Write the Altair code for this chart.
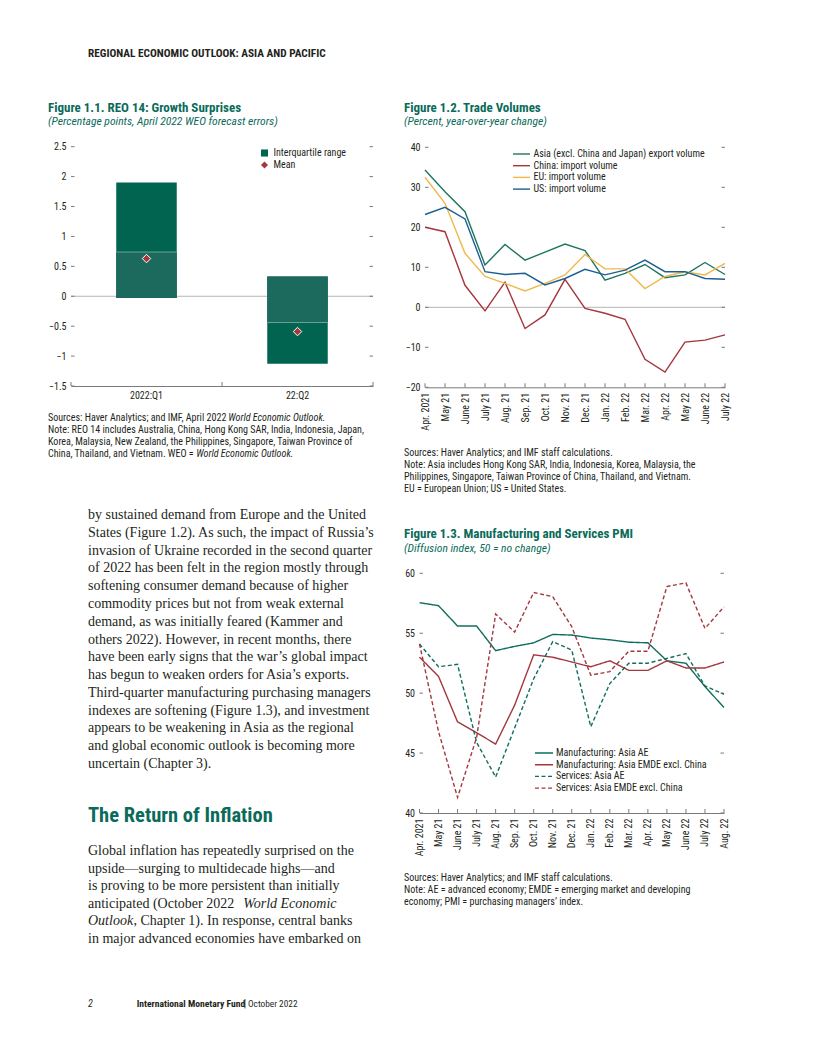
import altair as alt
import pandas as pd

W, H = 800, 1040


def X(x):
    return round(x - 8, 2)


def Y(y):
    return round(y - 8, 2)


SANS = "Roboto Condensed, Noto Sans Condensed, Liberation Sans Narrow, DejaVu Sans Condensed, sans-serif"
SERIF = "Liberation Serif, Times New Roman, DejaVu Serif, serif"
TEAL = "#0a6b5a"
INK = "#231f20"
AXC = "#7a7a7a"
ZERO = "#b5b5b5"
TICKFS = 10
NOTEFS = 10.05
LEGFS = 10
MINUS = "replace(datum.label, '-', '\u2212')"

# ---------------- Figure 1.1 data ----------------
cats11 = ["2022:Q1", "22:Q2"]
q25_11 = [-0.03, -1.13]
med_11 = [0.74, -0.44]
q75_11 = [1.90, 0.33]
mean_11 = [0.63, -0.59]
yt11 = [-1.5, -1.0, -0.5, 0.0, 0.5, 1.0, 1.5, 2.0, 2.5]
leg11 = ["Interquartile range", "Mean"]
col11 = ["#006450", "#a3383e"]
light11 = "#1c6a5d"
medline11 = "#8dbcb0"

# ---------------- Figure 1.2 data ----------------
months12 = ["Apr. 2021", "May 21", "June 21", "July 21", "Aug. 21", "Sep. 21", "Oct. 21",
            "Nov. 21", "Dec. 21", "Jan. 22", "Feb. 22", "Mar. 22", "Apr. 22", "May 22",
            "June 22", "July 22"]
names12 = ["Asia (excl. China and Japan) export volume", "China: import volume",
           "EU: import volume", "US: import volume"]
colors12 = ["#1e7660", "#a5363c", "#efb94c", "#1d5f93"]
asia12 = [34.3, 28.9, 23.9, 10.6, 15.7, 11.8, 13.8, 15.8, 14.2, 6.8, 8.5, 10.7, 7.4, 8.1, 11.2, 8.2]
china12 = [20.0, 18.9, 5.5, -0.9, 6.3, -5.3, -1.9, 7.0, -0.3, -1.5, -3.0, -13.0, -16.2, -8.7, -8.2, -6.9]
eu12 = [32.5, 26.0, 13.5, 7.7, 6.0, 4.1, 6.0, 8.1, 13.2, 9.6, 9.6, 4.7, 7.7, 8.9, 8.1, 11.0]
us12 = [23.2, 25.0, 22.1, 8.9, 8.2, 8.5, 5.6, 7.2, 9.5, 8.1, 9.3, 11.8, 8.9, 8.9, 7.2, 7.0]
yt12 = [-20, -10, 0, 10, 20, 30, 40]

# ---------------- Figure 1.3 data ----------------
months13 = months12 + ["Aug. 22"]
names13 = ["Manufacturing: Asia AE", "Manufacturing: Asia EMDE excl. China",
           "Services: Asia AE", "Services: Asia EMDE excl. China"]
colors13 = ["#0f6e5d", "#a3383e", "#0f6e5d", "#a3383e"]
dashes13 = [[1, 0], [1, 0], [4, 2.5], [4, 2.5]]
mfg_ae = [57.55, 57.3, 55.6, 55.6, 53.55, 53.9, 54.2, 54.9, 54.85, 54.6, 54.45, 54.25, 54.2, 52.7, 52.5, 50.55, 48.8]
mfg_emde = [53.0, 51.4, 47.6, 46.7, 45.75, 49.0, 53.2, 53.0, 52.6, 52.2, 52.7, 51.9, 51.9, 52.7, 52.1, 52.1, 52.6]
svc_ae = [54.1, 52.2, 52.4, 45.9, 43.0, 47.1, 51.2, 54.3, 53.6, 47.2, 50.8, 52.5, 52.5, 52.9, 53.3, 50.6, 49.9]
svc_emde = [54.1, 46.8, 41.3, 46.3, 56.6, 55.1, 58.4, 58.05, 55.55, 51.5, 51.8, 53.5, 53.5, 58.9, 59.2, 55.4, 57.2]
yt13 = [40, 45, 50, 55, 60]

# ---------------- Texts ----------------
header = "REGIONAL ECONOMIC OUTLOOK: ASIA AND PACIFIC"
t11 = "Figure 1.1. REO 14: Growth Surprises"
s11 = "(Percentage points, April 2022 WEO forecast errors)"
t12 = "Figure 1.2. Trade Volumes"
s12 = "(Percent, year-over-year change)"
t13 = "Figure 1.3. Manufacturing and Services PMI"
s13 = "(Diffusion index, 50 = no change)"
notes11 = ["Sources: Haver Analytics; and IMF, April 2022",
           "Note: REO 14 includes Australia, China, Hong Kong SAR, India, Indonesia, Japan,",
           "Korea, Malaysia, New Zealand, the Philippines, Singapore, Taiwan Province of",
           "China, Thailand, and Vietnam. WEO ="]
weo = "World Economic Outlook."
notes12 = ["Sources: Haver Analytics; and IMF staff calculations.",
           "Note: Asia includes Hong Kong SAR, India, Indonesia, Korea, Malaysia, the",
           "Philippines, Singapore, Taiwan Province of China, Thailand, and Vietnam.",
           "EU = European Union; US = United States."]
notes13 = ["Sources: Haver Analytics; and IMF staff calculations.",
           "Note: AE = advanced economy; EMDE = emerging market and developing",
           "economy; PMI = purchasing managers\u2019 index."]
body1 = ["by sustained demand from Europe and the United",
         "States (Figure 1.2). As such, the impact of Russia\u2019s",
         "invasion of Ukraine recorded in the second quarter",
         "of 2022 has been felt in the region mostly through",
         "softening consumer demand because of higher",
         "commodity prices but not from weak external",
         "demand, as was initially feared (Kammer and",
         "others 2022). However, in recent months, there",
         "have been early signs that the war\u2019s global impact",
         "has begun to weaken orders for Asia\u2019s exports.",
         "Third-quarter manufacturing purchasing managers",
         "indexes are softening (Figure 1.3), and investment",
         "appears to be weakening in Asia as the regional",
         "and global economic outlook is becoming more",
         "uncertain (Chapter 3)."]
heading = "The Return of Inflation"
body2a = ["Global inflation has repeatedly surprised on the",
          "upside\u2014surging to multidecade highs\u2014and",
          "is proving to be more persistent than initially",
          "anticipated (October 2022"]
body2_it1 = "World Economic"
body2_it2 = "Outlook"
body2_l5 = ", Chapter 1). In response, central banks"
body2_l6 = "in major advanced economies have embarked on"

ONE = pd.DataFrame({"k": [0]})


def txt(x, y, lines, size, font=SANS, weight="normal", style="normal", color=INK, lh=None):
    props = dict(text=lines, align="left", baseline="alphabetic", font=font,
                 fontSize=size, fontWeight=weight, fontStyle=style, color=color)
    if lh:
        props["lineHeight"] = lh
    return alt.Chart(ONE).mark_text(**props).encode(x=alt.value(X(x)), y=alt.value(Y(y)))


def lab_axis(**kw):
    base = dict(title=None, ticks=False, grid=False, labelFont=SANS, labelFontSize=TICKFS,
                labelColor=INK, domainColor=AXC, domainWidth=1)
    base.update(kw)
    return alt.Axis(**base)


def legend(x, y, **kw):
    base = dict(orient="none", legendX=X(x), legendY=Y(y), title=None, direction="vertical",
                labelFont=SANS, labelFontSize=LEGFS, labelColor=INK, labelLimit=400, padding=0)
    base.update(kw)
    return alt.Legend(**base)


# ================= Figure 1.1 =================
sx11 = alt.Scale(type="band", domain=cats11, range=[X(71), X(373)], paddingInner=0, paddingOuter=0)
sy11 = alt.Scale(domain=[-1.5, 2.5], range=[Y(386), Y(146.7)], nice=False, zero=False)
ax_x11 = lab_axis(orient="bottom", offset=Y(386) - H, labelPadding=4, labelAngle=0)
ax_y11 = lab_axis(orient="left", offset=-X(71), domain=False, values=yt11, format="~f",
                  labelPadding=5, labelExpr=MINUS)
c11 = alt.Scale(domain=leg11, range=col11)
L11 = legend(259.5, 148, symbolSize=50, symbolStrokeWidth=0, labelOffset=4, rowPadding=2)

lo11 = [a if a <= 0 <= m else m for a, m in zip(q25_11, med_11)]
hi11 = [m if a <= 0 <= m else b for a, m, b in zip(q25_11, med_11, q75_11)]
df11 = pd.DataFrame({"cat": cats11, "q25": q25_11, "med": med_11, "q75": q75_11,
                     "lo": lo11, "hi": hi11, "series": leg11[0]})
df11m = pd.DataFrame({"cat": cats11, "mean": mean_11, "series": leg11[1]})

X11 = alt.X("cat:N", scale=sx11, axis=ax_x11)
zero11 = alt.Chart(pd.DataFrame({"v": [0.0]})).mark_rule(color=ZERO, strokeWidth=1).encode(
    y=alt.Y("v:Q", scale=sy11, axis=ax_y11), x=alt.value(X(71)), x2=alt.value(X(373)))
bars11 = alt.Chart(df11).mark_bar(size=60.5).encode(
    x=X11, y=alt.Y("q25:Q", scale=sy11, axis=ax_y11), y2="q75:Q",
    color=alt.Color("series:N", scale=c11, legend=L11))
light11b = alt.Chart(df11).mark_bar(size=60.5, color=light11).encode(
    x=X11, y=alt.Y("lo:Q", scale=sy11, axis=ax_y11), y2="hi:Q")
med11 = alt.Chart(df11).mark_tick(size=60.5, thickness=1, color=medline11).encode(
    x=X11, y=alt.Y("med:Q", scale=sy11, axis=ax_y11))
pts11 = alt.Chart(df11m).mark_point(filled=True, size=72, stroke="white", strokeWidth=1, opacity=1).encode(
    x=X11, y=alt.Y("mean:Q", scale=sy11, axis=ax_y11),
    color=alt.Color("series:N", scale=c11, legend=L11),
    shape=alt.Shape("series:N", scale=alt.Scale(domain=leg11, range=["square", "diamond"]), legend=L11))
ytdf11 = pd.DataFrame({"v": yt11})
tl11 = alt.Chart(ytdf11).mark_rule(color=AXC).encode(
    y=alt.Y("v:Q", scale=sy11, axis=ax_y11), x=alt.value(X(71)), x2=alt.value(X(74.5)))
tr11 = alt.Chart(ytdf11).mark_rule(color=AXC).encode(
    y=alt.Y("v:Q", scale=sy11, axis=ax_y11), x=alt.value(X(369.5)), x2=alt.value(X(373)))
tx11a = alt.Chart(pd.DataFrame({"cat": cats11})).mark_rule(color=AXC).encode(
    x=alt.X("cat:N", scale=sx11, axis=ax_x11, bandPosition=0), y=alt.value(Y(382)), y2=alt.value(Y(386)))
tx11b = alt.Chart(pd.DataFrame({"cat": cats11[-1:]})).mark_rule(color=AXC).encode(
    x=alt.X("cat:N", scale=sx11, axis=ax_x11, bandPosition=1), y=alt.value(Y(382)), y2=alt.value(Y(386)))
fig11 = alt.layer(zero11, bars11, light11b, med11, tl11, tr11, tx11a, tx11b, pts11)

# ================= Figure 1.2 =================
rows12 = []
for nm, vals in zip(names12, [asia12, china12, eu12, us12]):
    for i, (m, v) in enumerate(zip(months12, vals)):
        rows12.append({"m": m, "i": i, "series": nm, "value": v})
df12 = pd.DataFrame(rows12)
sx12 = alt.Scale(type="point", domain=months12, range=[X(425), X(725)], padding=0)
sy12 = alt.Scale(domain=[-20, 40], range=[Y(387.3), Y(147.3)], nice=False, zero=False)
ax_x12 = lab_axis(orient="bottom", offset=Y(387.3) - H, labelAngle=270, labelPadding=5)
ax_y12 = lab_axis(orient="left", offset=-X(425), domain=False, values=yt12, labelPadding=5,
                  labelExpr=MINUS)
L12 = legend(515.5, 148, symbolType="M-1.7,0H1.7", symbolSize=100, symbolStrokeWidth=1.4,
             labelOffset=6, rowPadding=0.7)
X12 = alt.X("m:N", scale=sx12, axis=ax_x12)
zero12 = alt.Chart(pd.DataFrame({"v": [0]})).mark_rule(color=ZERO).encode(
    y=alt.Y("v:Q", scale=sy12, axis=ax_y12), x=alt.value(X(425)), x2=alt.value(X(725)))
lines12 = alt.Chart(df12).mark_line(strokeWidth=1.4).encode(
    x=X12, y=alt.Y("value:Q", scale=sy12, axis=ax_y12),
    color=alt.Color("series:N", scale=alt.Scale(domain=names12, range=colors12), legend=L12),
    order="i:Q")
ytdf12 = pd.DataFrame({"v": yt12})
tl12 = alt.Chart(ytdf12).mark_rule(color=AXC).encode(
    y=alt.Y("v:Q", scale=sy12, axis=ax_y12), x=alt.value(X(425)), x2=alt.value(X(428.5)))
tr12 = alt.Chart(ytdf12).mark_rule(color=AXC).encode(
    y=alt.Y("v:Q", scale=sy12, axis=ax_y12), x=alt.value(X(721.5)), x2=alt.value(X(725)))
tx12 = alt.Chart(pd.DataFrame({"m": months12})).mark_rule(color=AXC).encode(
    x=X12, y=alt.value(Y(383.3)), y2=alt.value(Y(387.3)))
fig12 = alt.layer(zero12, tl12, tr12, tx12, lines12)

# ================= Figure 1.3 =================
rows13 = []
for nm, vals in zip(names13, [mfg_ae, mfg_emde, svc_ae, svc_emde]):
    for i, (m, v) in enumerate(zip(months13, vals)):
        rows13.append({"m": m, "i": i, "series": nm, "value": v})
df13 = pd.DataFrame(rows13)
sx13 = alt.Scale(type="point", domain=months13, range=[X(419.5), X(724)], padding=0)
sy13 = alt.Scale(domain=[40, 60], range=[Y(813), Y(573.3)], nice=False, zero=False)
ax_x13 = lab_axis(orient="bottom", offset=Y(813) - H, labelAngle=270, labelPadding=5)
ax_y13 = lab_axis(orient="left", offset=-X(419.5), domain=False, values=yt13, labelPadding=5)
L13 = legend(538, 747, symbolType="M-1.8,0H1.8", symbolSize=100, symbolStrokeWidth=1.4,
             labelOffset=6, rowPadding=0.7)
X13 = alt.X("m:N", scale=sx13, axis=ax_x13)
lines13 = alt.Chart(df13).mark_line(strokeWidth=1.4).encode(
    x=X13, y=alt.Y("value:Q", scale=sy13, axis=ax_y13),
    color=alt.Color("series:N", scale=alt.Scale(domain=names13, range=colors13), legend=L13),
    strokeDash=alt.StrokeDash("series:N", scale=alt.Scale(domain=names13, range=dashes13), legend=L13),
    order="i:Q")
ytdf13 = pd.DataFrame({"v": yt13})
tl13 = alt.Chart(ytdf13).mark_rule(color=AXC).encode(
    y=alt.Y("v:Q", scale=sy13, axis=ax_y13), x=alt.value(X(419.5)), x2=alt.value(X(423)))
tr13 = alt.Chart(ytdf13).mark_rule(color=AXC).encode(
    y=alt.Y("v:Q", scale=sy13, axis=ax_y13), x=alt.value(X(720.5)), x2=alt.value(X(724)))
tx13 = alt.Chart(pd.DataFrame({"m": months13})).mark_rule(color=AXC).encode(
    x=X13, y=alt.value(Y(809)), y2=alt.value(Y(813)))
fig13 = alt.layer(tl13, tr13, tx13, lines13)

# ================= Text layers =================
TT, ST = 13, 11.6
texts = [
    txt(88, 56.5, header, 11.3, weight="bold"),
    txt(48, 111.7, t11, TT, weight="bold", color=TEAL),
    txt(48, 124.5, s11, ST, style="italic", color=TEAL),
    txt(404, 111.7, t12, TT, weight="bold", color=TEAL),
    txt(404, 124.5, s12, ST, style="italic", color=TEAL),
    txt(404, 537.7, t13, TT, weight="bold", color=TEAL),
    txt(404, 551.5, s13, ST, style="italic", color=TEAL),
    txt(48, 421, notes11, NOTEFS, lh=12.1),
    txt(228.3, 421, weo, NOTEFS, style="italic"),
    txt(196.3, 421 + 3 * 12.1, weo, NOTEFS, style="italic"),
    txt(404, 456, notes12, NOTEFS, lh=11.9),
    txt(404, 881, notes13, NOTEFS, lh=12.2),
    txt(88, 519, body1, 14, font=SERIF, lh=17.79),
    txt(88, 822, heading, 20.5, weight="bold", color=TEAL),
    txt(88, 855, body2a, 14, font=SERIF, lh=17.6),
    txt(243.3, 855 + 3 * 17.6, body2_it1, 14, font=SERIF, style="italic"),
    txt(88, 855 + 4 * 17.6, body2_it2, 14, font=SERIF, style="italic"),
    txt(133.5, 855 + 4 * 17.6, body2_l5, 14, font=SERIF),
    txt(88, 855 + 5 * 17.6, body2_l6, 14, font=SERIF),
    txt(88, 1006.5, "2", 10, style="italic"),
    txt(136.7, 1006.5, "International Monetary Fund", 9.6, weight="bold"),
    txt(243.5, 1006.5, "|", 11),
    txt(248, 1006.5, "October 2022", 9.3),
]

chart = alt.layer(fig11, fig12, fig13, *texts).resolve_scale(
    x="independent", y="independent", color="independent", shape="independent",
    strokeDash="independent"
).properties(
    width=W, height=H, padding=0, autosize=alt.AutoSizeParams(type="none")
).configure_view(stroke=None)

chart.save("out.html", embed_options={"renderer": "svg", "actions": False})
